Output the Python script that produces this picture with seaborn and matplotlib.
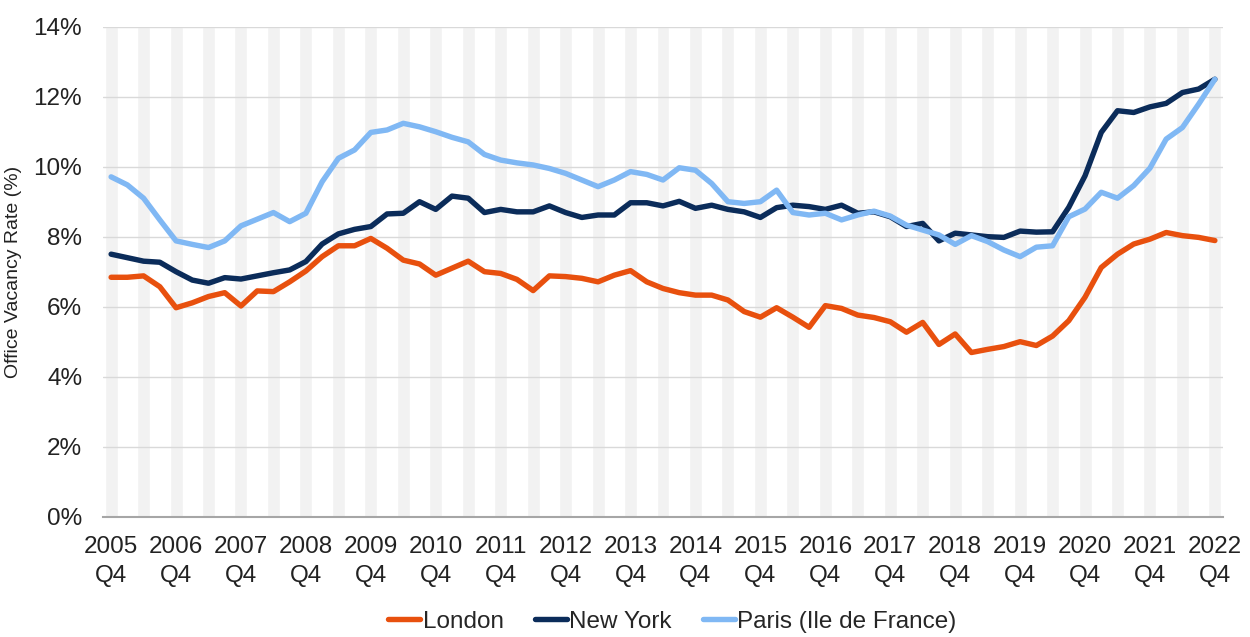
import numpy as np
import pandas as pd
import seaborn as sns
import matplotlib.pyplot as plt

sns.set_theme(style="white")
plt.rcParams['font.family'] = ['Liberation Sans', 'DejaVu Sans']

# quarterly office vacancy rates (%), 2005 Q4 .. 2022 Q4
london = [6.84, 6.84, 6.88, 6.57, 5.97, 6.11, 6.29, 6.40, 6.02, 6.45, 6.43, 6.71,
          7.02, 7.43, 7.74, 7.74, 7.95, 7.67, 7.33, 7.22, 6.90, 7.10, 7.30, 7.00,
          6.95, 6.78, 6.46, 6.88, 6.86, 6.81, 6.71, 6.90, 7.03, 6.71, 6.52, 6.40,
          6.33, 6.33, 6.19, 5.86, 5.70, 5.97, 5.70, 5.41, 6.03, 5.95, 5.76, 5.69,
          5.57, 5.27, 5.55, 4.92, 5.22, 4.69, 4.78, 4.86, 5.00, 4.89, 5.16,
          5.60, 6.27, 7.12, 7.50, 7.79, 7.93, 8.12, 8.03, 7.98, 7.89]
new_york = [7.50, 7.40, 7.30, 7.27, 7.00, 6.76, 6.67, 6.83, 6.79, 6.88, 6.97, 7.05,
            7.29, 7.79, 8.08, 8.21, 8.29, 8.65, 8.67, 9.00, 8.78, 9.16, 9.10, 8.69,
            8.78, 8.71, 8.71, 8.88, 8.69, 8.55, 8.62, 8.62, 8.97, 8.97, 8.88, 9.01,
            8.81, 8.90, 8.78, 8.71, 8.55, 8.83, 8.90, 8.86, 8.78, 8.90, 8.67, 8.71,
            8.57, 8.29, 8.38, 7.88, 8.10, 8.05, 8.00, 7.98, 8.16, 8.13, 8.14,
            8.84, 9.74, 10.98, 11.60, 11.55, 11.71, 11.81, 12.12, 12.22, 12.50]
paris = [9.71, 9.48, 9.10, 8.48, 7.88, 7.78, 7.69, 7.88, 8.31, 8.50, 8.69, 8.43,
         8.67, 9.57, 10.24, 10.48, 10.98, 11.05, 11.24, 11.14, 11.00, 10.84, 10.71, 10.35,
         10.19, 10.11, 10.05, 9.95, 9.81, 9.62, 9.43, 9.62, 9.86, 9.78, 9.62, 9.97,
         9.90, 9.52, 9.00, 8.95, 9.00, 9.33, 8.69, 8.62, 8.67, 8.48, 8.62, 8.73,
         8.59, 8.33, 8.19, 8.05, 7.78, 8.03, 7.86, 7.62, 7.43, 7.70, 7.74,
         8.57, 8.79, 9.27, 9.10, 9.46, 9.96, 10.79, 11.12, 11.79, 12.50]
years = list(range(2005, 2023))
tick_labels = [f"{y}\nQ4" for y in years]
y_ticks = [0, 2, 4, 6, 8, 10, 12, 14]

n = len(london)
quarter = np.arange(n)
df = pd.DataFrame({
    "quarter": np.tile(quarter, 3),
    "rate": london + new_york + paris,
    "city": ["London"] * n + ["New York"] * n + ["Paris (Ile de France)"] * n,
})
palette = {"London": "#E8500E", "New York": "#0B2C5A", "Paris (Ile de France)": "#80B8F4"}

fig = plt.figure(figsize=(12.5, 6.37), dpi=100)
ax = fig.add_axes([0.0824, 0.189, 0.896, 0.769])

# alternating shaded background bands
ax.bar(quarter[::2], [14] * len(quarter[::2]), width=0.8, color="#f2f2f2", zorder=0.1)

sns.lineplot(data=df, x="quarter", y="rate", hue="city", palette=palette,
             linewidth=3.9, ax=ax, zorder=3, solid_capstyle="round")

ax.set_xlim(-0.5, n - 0.5)
ax.set_ylim(0, 14)
ax.set_xticks(quarter[::4])
ax.set_xticklabels(tick_labels, fontsize=17.5, color="#222222", linespacing=1.4)
ax.set_yticks(y_ticks)
ax.set_yticklabels([f"{v}%" for v in y_ticks], fontsize=17.5, color="#222222")
ax.tick_params(axis="x", length=0, pad=14)
ax.tick_params(axis="y", length=0, pad=15)
ax.set_xlabel("")
ax.set_ylabel("Office Vacancy Rate (%)", fontsize=14, color="#222222", labelpad=8)

ax.set_axisbelow(True)
ax.yaxis.grid(True, color="#d9d9d9", linewidth=1.0)
for side in ["left", "right", "top"]:
    ax.spines[side].set_visible(False)
ax.spines["bottom"].set_color("#a6a6a6")
ax.spines["bottom"].set_linewidth(1.5)

handles, labels = ax.get_legend_handles_labels()
ax.get_legend().remove()
fig.legend(handles, labels, loc="center", bbox_to_anchor=(0.538, 0.024), ncol=3,
           frameon=False, fontsize=17.5, handlelength=1.3, handletextpad=0.1,
           columnspacing=1.3)

fig.savefig("out.png", dpi=100)
